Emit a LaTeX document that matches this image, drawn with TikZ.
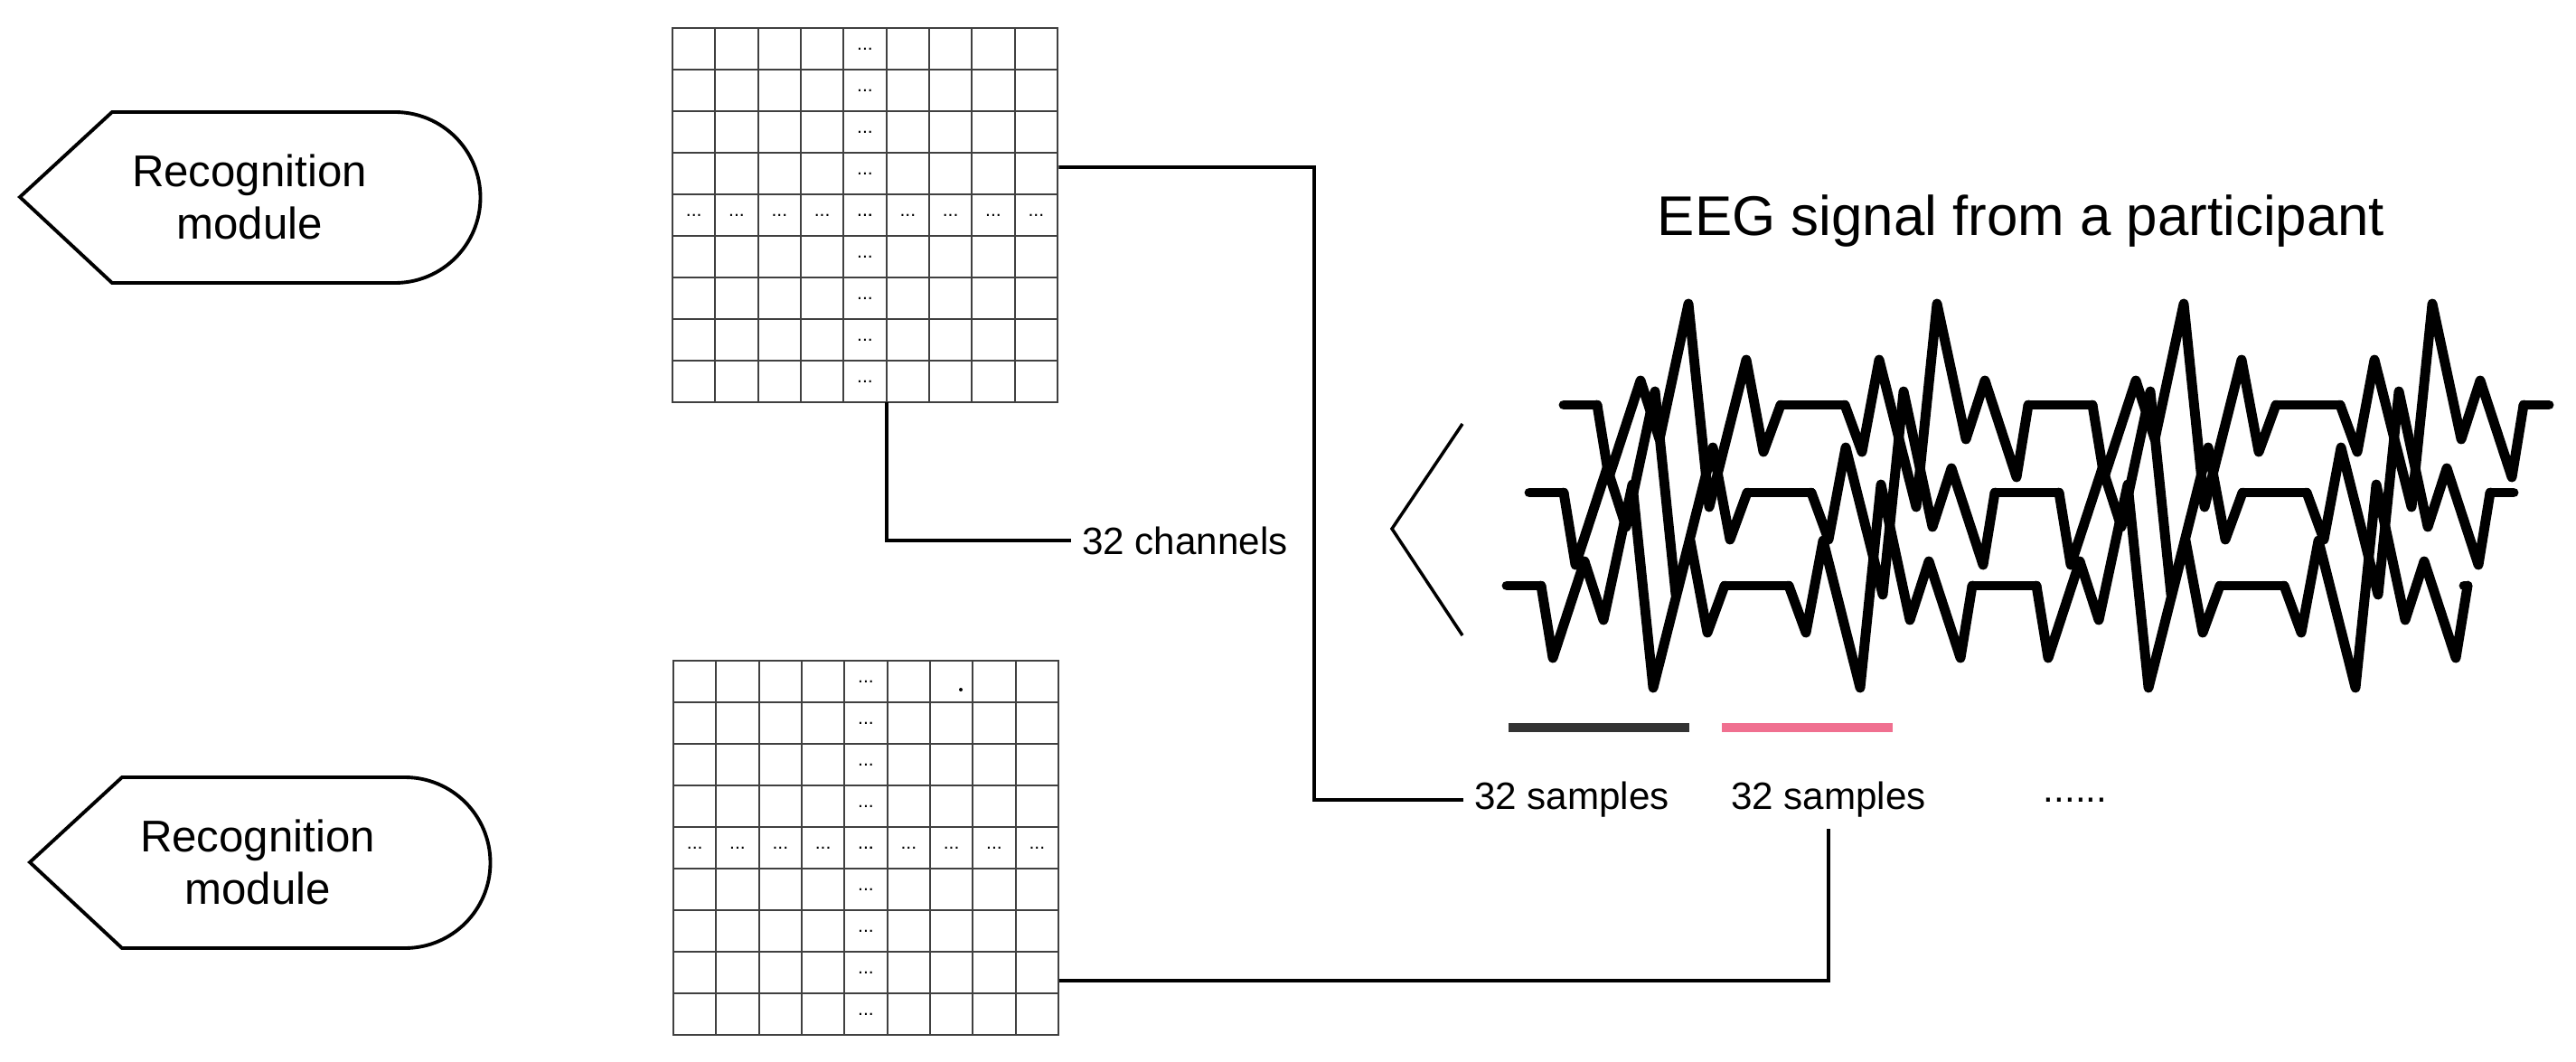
\documentclass[tikz,border=0pt]{standalone}
\usepackage{fontspec}
\setmainfont{Liberation Sans}
\usetikzlibrary{calc}

\definecolor{barpink}{RGB}{240,112,144}
\definecolor{bardark}{RGB}{51,51,51}

\tikzset{
  gridline/.style={draw=black!75, line width=0.5pt},
  cdots/.style={inner sep=0pt, font=\fontsize{6}{6}\selectfont},
  wire/.style={line width=1.1pt},
  eeg/.style={line width=3.1pt, line join=round, line cap=round},
  label/.style={font=\fontsize{12}{14}\selectfont},
  module/.style={draw, line width=1.1pt},
  unitA/.pic={\draw[eeg] (0,0) -- (0.13,-0.80) -- (0.48,0.27) -- (0.69,-0.38) -- (1.01,1.12) -- (1.24,-1.13) -- (1.65,0.50) -- (1.84,-0.52) -- (2.03,0);},
  unitB/.pic={\draw[eeg] (0,0) -- (0.19,-0.52) -- (0.38,0.50) -- (0.79,-1.13) -- (1.02,1.12) -- (1.34,-0.38) -- (1.55,0.27) -- (1.90,-0.80) -- (2.03,0);}
}

% grid of 9x9 cells: #1 name, #2 lower left corner
\newcommand{\cellgrid}[2]{
  \node[inner sep=0, minimum width=4.26cm, minimum height=4.14cm, anchor=south west] (#1) at (#2) {};
  \begin{scope}[shift={(#2)}]
    \draw[gridline, xstep=0.4733, ystep=0.46] (0,0) grid (4.25,4.13);
    \draw[gridline] (0,0) rectangle (4.26,4.14);
    \foreach \r in {0,...,8} {
      \node[cdots] at (2.13, \r*0.46+0.23) {...};
      \node[cdots] at (\r*0.4733+0.2367, 2.07) {...};
    }
  \end{scope}
}

% one eeg trace: #1 start x, #2 first unit x, #3 baseline y, #4 end x
\newcommand{\eegtrace}[4]{
  \draw[eeg] (#1,#3) -- (#2,#3);
  \foreach \k/\p in {0/unitA,1/unitB,2/unitA,3/unitB}
    \pic at ({#2+\k*2.74},#3) {\p};
  \foreach \k in {0,1,2}
    \draw[eeg] ({#2+\k*2.74+2.03},#3) -- ({#2+\k*2.74+2.74},#3);
  \draw[eeg] ({#2+3*2.74+2.03},#3) -- (#4,#3);
}

\begin{document}
\begin{tikzpicture}
  \useasboundingbox (0,0) rectangle (28.5,11.74);

  % recognition modules
  \draw[module] (0.22,9.56) -- (1.24,10.50) -- (4.37,10.50) arc (90:-90:0.945) -- (1.24,8.61) -- cycle;
  \node[align=center, font=\fontsize{14}{16.5}\selectfont] (recA) at (2.76,9.56) {Recognition\\module};
  \draw[module] (0.33,2.20) -- (1.35,3.14) -- (4.48,3.14) arc (90:-90:0.945) -- (1.35,1.25) -- cycle;
  \node[align=center, font=\fontsize{14}{16.5}\selectfont] (recB) at (2.85,2.20) {Recognition\\module};

  % channel grids
  \cellgrid{gridA}{7.44,7.29}
  \cellgrid{gridB}{7.45,0.29}
  \fill (10.63,4.11) circle (0.02);

  % eeg signal
  \node[font=\fontsize{17.6}{20}\selectfont] (title) at (22.36,9.29) {EEG signal from a participant};
  \eegtrace{17.30}{17.67}{7.26}{28.20}
  \eegtrace{16.92}{17.30}{6.29}{27.81}
  \eegtrace{16.67}{17.05}{5.26}{27.26}
  \draw[line width=1pt] (16.18,7.05) -- (15.40,5.89) -- (16.18,4.71);

  \draw[line width=3.1pt, bardark] (16.69,3.69) -- (18.69,3.69);
  \draw[line width=3.1pt, barpink] (19.05,3.69) -- (20.94,3.69);

  \node[label] (channels) at (13.11,5.76) {32 channels};
  \node[label] (samplesA) at (17.39,2.89) {32 samples};
  \node[label] (samplesB) at (20.23,2.89) {32 samples};
  \node[label] (more) at (22.96,2.89) {......};

  % connectors
  \coordinate (outA) at ($(gridA.south east)+(0,2.6)$);
  \coordinate (downA) at ($(gridA.south west)+(2.37,0)$);
  \coordinate (outB) at ($(gridB.south east)+(0,0.6)$);
  \draw[wire] (outA) -- (14.54,9.89) |- (samplesA.west);
  \draw[wire] (downA) |- (channels.west);
  \draw[wire] (outB) -| (samplesB.south);
\end{tikzpicture}
\end{document}
